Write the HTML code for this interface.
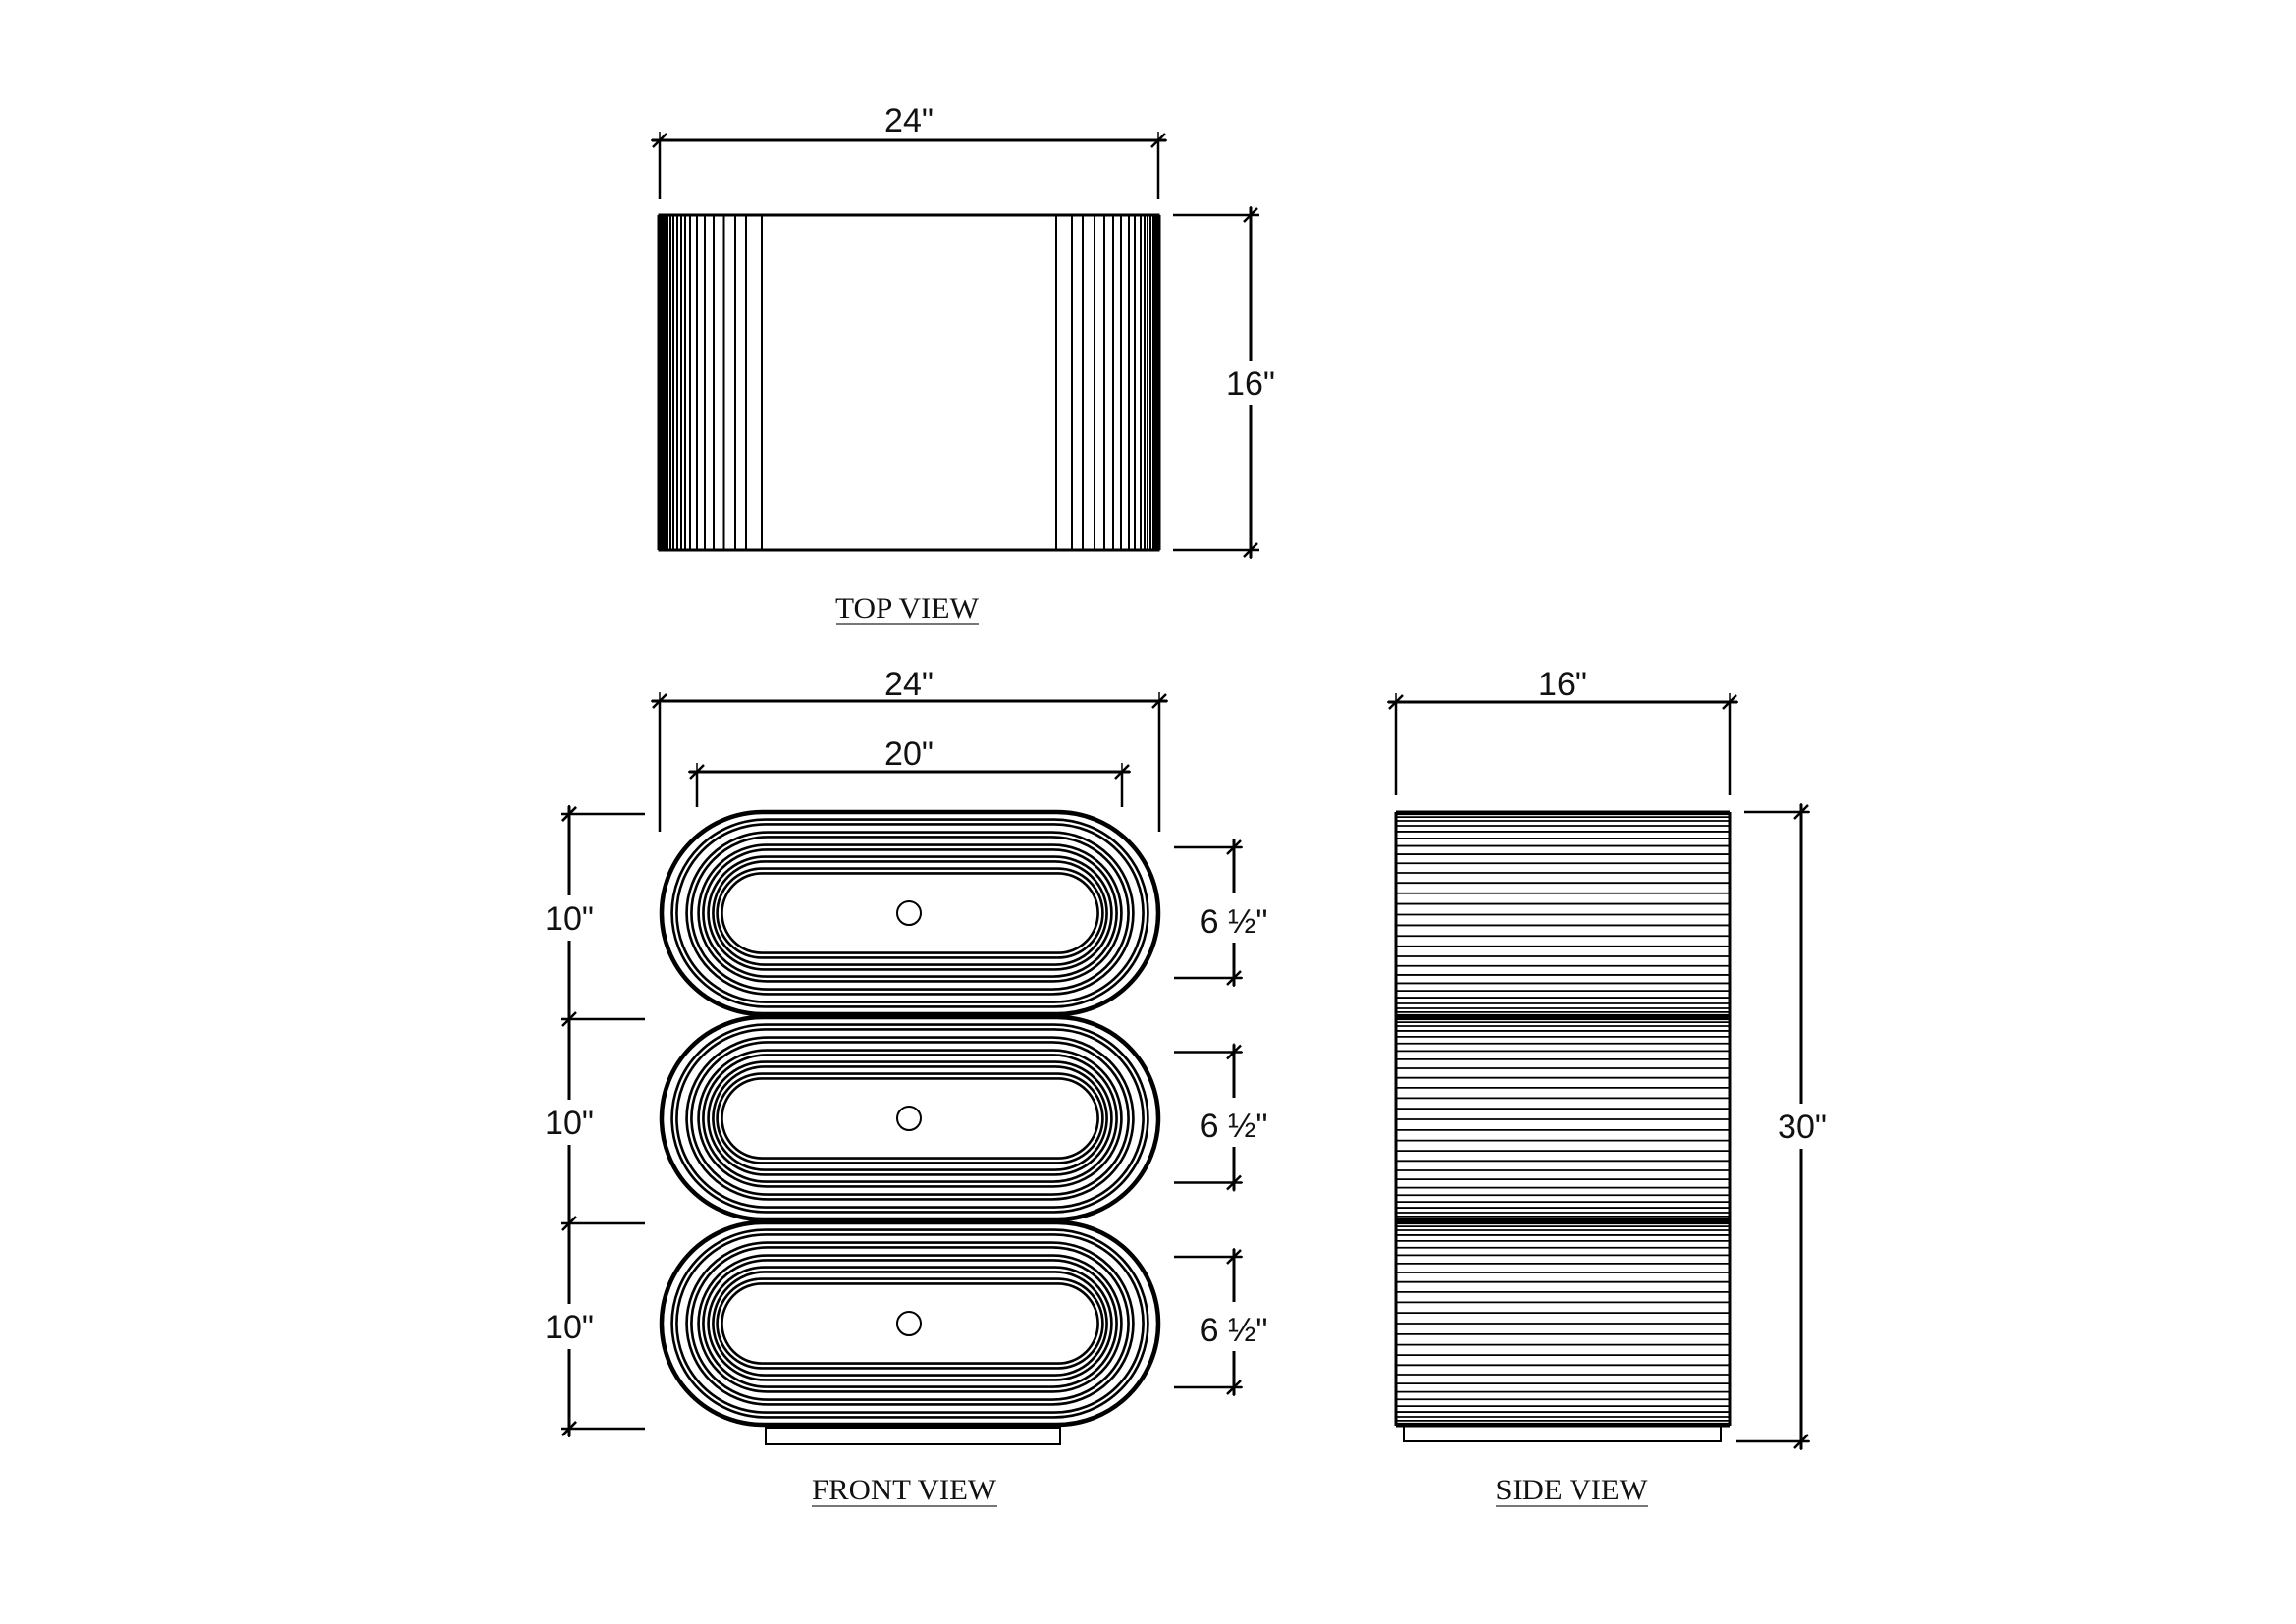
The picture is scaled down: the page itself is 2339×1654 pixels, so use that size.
<!DOCTYPE html>
<html><head><meta charset="utf-8"><style>
html,body{margin:0;padding:0;background:#fff}
svg{display:block}
.d{font-family:"Liberation Sans",sans-serif;font-size:34px;fill:#111;text-anchor:middle}
.s{font-family:"Liberation Serif",serif;font-size:30px;fill:#111;text-anchor:middle}
</style></head><body>
<svg id="s" width="2339" height="1654" viewBox="0 0 2339 1654" xmlns="http://www.w3.org/2000/svg">
<rect width="2339" height="1654" fill="#fff"/>
<g id="g" stroke="#000" fill="none" stroke-width="2.5"></g>
<text class="d" x="926" y="134">24"</text>
<rect x="1250" y="368" width="48" height="44" fill="#fff"/>
<text class="d" x="1274" y="402">16"</text>
<text class="s" x="924" y="629" textLength="146" lengthAdjust="spacingAndGlyphs">TOP VIEW</text>
<line x1="852" y1="636" x2="997" y2="636" stroke="#777" stroke-width="2"/>

<text class="d" x="926" y="708">24"</text>
<text class="d" x="926" y="779">20"</text>

<rect x="550" y="912" width="60" height="46" fill="#fff"/>
<text class="d" x="580" y="947">10"</text>
<rect x="550" y="1120" width="60" height="46" fill="#fff"/>
<text class="d" x="580" y="1155">10"</text>
<rect x="550" y="1328" width="60" height="46" fill="#fff"/>
<text class="d" x="580" y="1363">10"</text>

<rect x="1222" y="910" width="72" height="50" fill="#fff"/>
<text class="d" x="1257" y="950">6 ½"</text>
<rect x="1222" y="1118" width="72" height="50" fill="#fff"/>
<text class="d" x="1257" y="1158">6 ½"</text>
<rect x="1222" y="1326" width="72" height="50" fill="#fff"/>
<text class="d" x="1257" y="1366">6 ½"</text>

<text class="s" x="921" y="1527" textLength="188" lengthAdjust="spacingAndGlyphs">FRONT VIEW</text>
<line x1="827" y1="1534" x2="1016" y2="1534" stroke="#777" stroke-width="2"/>

<text class="d" x="1592" y="708">16"</text>
<rect x="1810" y="1124" width="52" height="46" fill="#fff"/>
<text class="d" x="1836" y="1159">30"</text>
<text class="s" x="1601" y="1527" textLength="155" lengthAdjust="spacingAndGlyphs">SIDE VIEW</text>
<line x1="1524" y1="1534" x2="1679" y2="1534" stroke="#777" stroke-width="2"/>
</svg>
<script>
(function(){
var g=document.getElementById('g'),NS='http://www.w3.org/2000/svg';
function el(t,a,p){var e=document.createElementNS(NS,t);for(var k in a)e.setAttribute(k,a[k]);(p||g).appendChild(e);return e;}
function L(x1,y1,x2,y2,w,c){return el('line',{x1:x1,y1:y1,x2:x2,y2:y2,'stroke-width':w||2.5,stroke:c||'#000'});}
function tick(x,y){L(x-7,y+7,x+7,y-7,2.5);L(x-9,y,x+9,y,1.5);L(x,y-9,x,y+9,1.5);}
function hdim(x1,x2,y){L(x1-8,y,x2+8,y,3);tick(x1,y);tick(x2,y);}
function vdim(x,y1,y2){L(x,y1-8,x,y2+8,3);tick(x,y1);tick(x,y2);}
hdim(672,1180,143);L(672,143,672,203,2.5);L(1180,143,1180,203,2.5);
el('rect',{x:672,y:219,width:508,height:341,'stroke-width':3});
[672,674,676,678,680,683,686,690,694,698,703,710,718,727,737.5,749,760,776].forEach(function(x){L(x,219,x,560,2);});
[1076,1092,1103,1115,1125,1134,1142,1150,1156,1162,1166,1169,1172,1175,1177,1180].forEach(function(x){L(x,219,x,560,2);});
L(672,219,672,560,5);L(1180,219,1180,560,5);
vdim(1274,219,560);L(1195,219,1283,219,2.5);L(1195,560,1283,560,2.5);
hdim(672,1181,714);L(672,714,672,847);L(1181,714,1181,847);
hdim(710,1143,786);L(710,786,710,822);L(1143,786,1143,822);
var dx=[0,13,28,40,50,59],dy=[0,10,23,36,48,60];
for(var d=0;d<3;d++){
 var ty=827+d*209,bt=ty+206;
 for(var i=0;i<6;i++){
  var x=674+dx[i],y=ty+dy[i],w=(1180-dx[i])-x,h=(bt-dy[i])-y;
  if(i==0){el('rect',{x:x,y:y,width:w,height:h,rx:h/2,ry:h/2,'stroke-width':4.5,fill:'#fff'});}
  else{el('rect',{x:x,y:y,width:w,height:h,rx:h/2,ry:h/2,'stroke-width':7.5});
       el('rect',{x:x,y:y,width:w,height:h,rx:h/2,ry:h/2,'stroke-width':2.2,stroke:'#fff'});}
 }
 el('circle',{cx:926,cy:ty+103,r:12,'stroke-width':2});
 var a=863+d*208.5,b=996+d*208.5;
 vdim(1257,a,b);L(1196,a,1265,a);L(1196,b,1265,b);
}
el('rect',{x:780,y:1454,width:300,height:17,'stroke-width':2});
vdim(580,829,1455);
[829,1038,1246,1455].forEach(function(y){L(572,y,657,y);tick(580,y);});
hdim(1422,1762,715);L(1422,715,1422,810);L(1762,715,1762,810);
el('rect',{x:1430,y:1452,width:323,height:16,'stroke-width':2});
var S=[827,1036,1244,1452];
for(var k=0;k<3;k++){
 var t=S[k],bb=S[k+1],N=30;
 for(var j=0;j<=N;j++){var yy=t+(bb-t)*(1-Math.cos(Math.PI*j/N))/2;L(1422,yy,1762,yy,1.8);}
 L(1422,t,1762,t,k==0?3:5);
}
L(1422,1452,1762,1452,3);
L(1422,827,1422,1452,3);L(1762,827,1762,1452,3);
vdim(1835,827,1468);L(1777,827,1843,827);L(1769,1468,1843,1468);
})();
</script>
</body></html>
